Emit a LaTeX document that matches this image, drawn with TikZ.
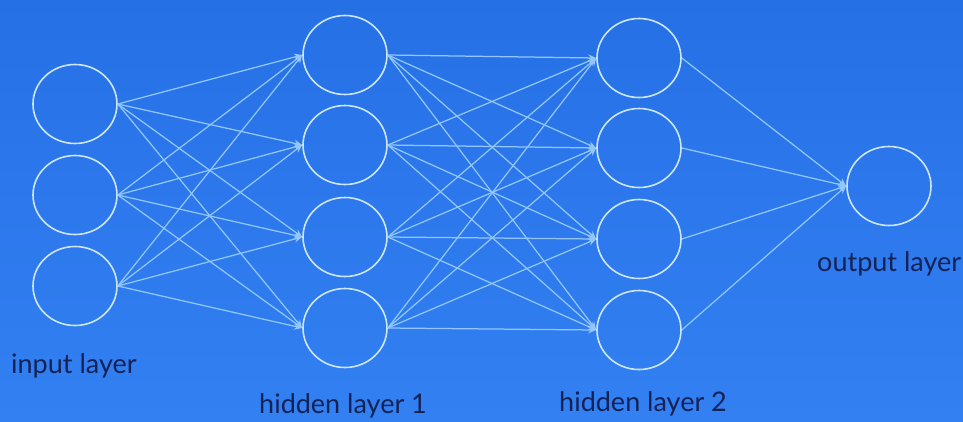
\documentclass[tikz,border=0pt]{standalone}
\usepackage{fontspec}
\setmainfont{Lato}
\usetikzlibrary{arrows.meta,shapes.geometric}
\definecolor{bgtop}{RGB}{38,112,230}
\definecolor{bgbot}{RGB}{50,128,242}
\definecolor{ringcol}{RGB}{205,230,255}
\definecolor{edgecol}{RGB}{145,198,255}
\definecolor{txtcol}{RGB}{20,34,86}
\tikzset{
  neuron/.style={ellipse, draw=ringcol, line width=1.6pt, minimum width=84pt, minimum height=79pt, inner sep=0pt},
  conn/.style={draw=edgecol, line width=1.25pt, -{Stealth[length=8pt,width=7pt]}},
  lbl/.style={text=txtcol, font=\fontsize{27}{31}\selectfont, inner sep=0pt, anchor=west}
}
\begin{document}
\begin{tikzpicture}[x=1pt,y=-1pt]
\shade[top color=bgtop, bottom color=bgbot] (0,0) rectangle (963,421);
\useasboundingbox (0,0) rectangle (963,421);
% input layer
\node[neuron] (i1) at (75,104) {};
\node[neuron] (i2) at (75,195) {};
\node[neuron] (i3) at (75,286) {};
% hidden layer 1
\node[neuron] (a1) at (345,55) {};
\node[neuron] (a2) at (345,145) {};
\node[neuron] (a3) at (345,237) {};
\node[neuron] (a4) at (345,328) {};
% hidden layer 2
\node[neuron] (b1) at (639,58) {};
\node[neuron] (b2) at (639,148) {};
\node[neuron] (b3) at (639,239) {};
\node[neuron] (b4) at (639,330) {};
% output
\node[neuron] (o) at (889,186) {};
% connections
\foreach \s in {i1,i2,i3}{
  \foreach \t in {a1,a2,a3,a4}{
    \draw[conn] (\s.east) -- (\t.west);
  }
}
\foreach \s in {a1,a2,a3,a4}{
  \foreach \t in {b1,b2,b3,b4}{
    \draw[conn] (\s.east) -- (\t.west);
  }
}
\foreach \s in {b1,b2,b3,b4}{
  \draw[conn] (\s.east) -- (o.west);
}
% labels
\node[lbl] (li) at (11,366) {input layer};
\node[lbl] (la) at (259,406) {hidden layer 1};
\node[lbl] (lb) at (559,404) {hidden layer 2};
\node[lbl] (lo) at (817,264) {output layer};
\end{tikzpicture}
\end{document}
